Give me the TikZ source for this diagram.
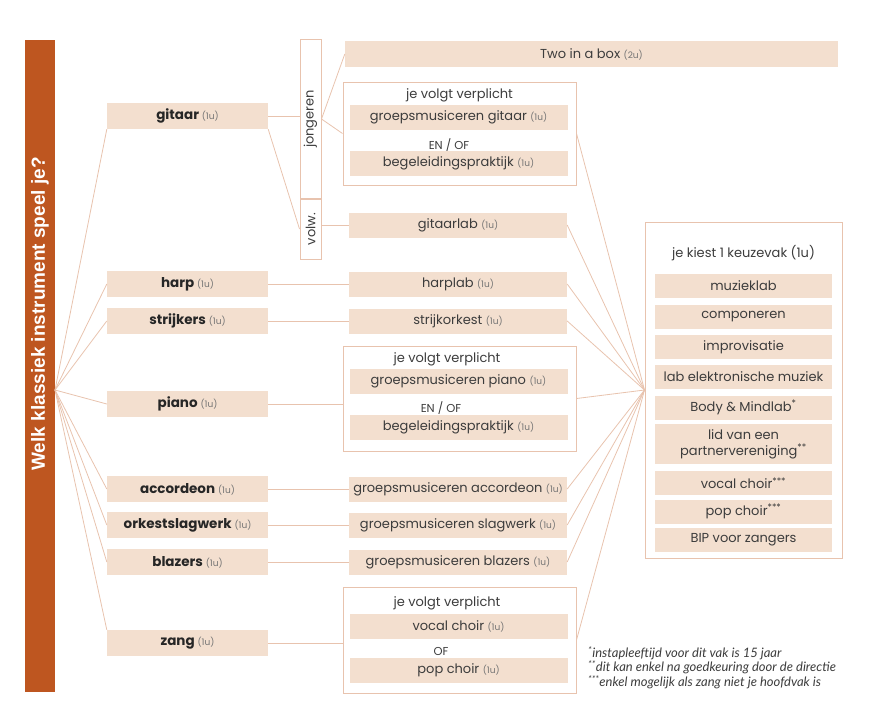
\documentclass[tikz,border=0pt]{standalone}
\usepackage{fontspec}
\setmainfont{Poppins}
\newfontfamily\balkfont{Liberation Sans}
\newfontfamily\voetfont{Lato}
\usetikzlibrary{positioning}

\definecolor{oranje}{HTML}{BE5620}
\definecolor{vlak}{HTML}{F3DFCF}
\definecolor{lijn}{HTML}{E8C3AE}
\definecolor{tekst}{HTML}{3C3C3C}

\newcommand{\uren}[1]{{\fontsize{9}{9}\selectfont\mdseries\color{black!55}(#1)}}

\tikzset{
  instr/.style={fill=vlak, minimum width=161pt, minimum height=26pt, inner sep=0pt,
    font=\fontsize{13.5}{13.5}\selectfont\bfseries, text=black!85},
  vak/.style={fill=vlak, minimum width=218pt, minimum height=25pt, inner sep=0pt,
    font=\fontsize{13}{13}\selectfont, text=tekst},
  kader/.style={draw=lijn, line width=1pt, minimum width=233pt, inner sep=0pt},
  leeftijd/.style={draw=lijn, line width=1pt, minimum width=21pt, inner sep=0pt,
    font=\fontsize{13}{13}\selectfont, text=tekst},
  keuzevak/.style={fill=vlak, minimum width=177pt, minimum height=24pt, inner sep=0pt,
    font=\fontsize{13}{16}\selectfont, text=tekst, align=center},
  tussen/.style={font=\fontsize{13}{13}\selectfont, text=tekst},
  enof/.style={font=\fontsize{11.5}{11.5}\selectfont, text=tekst},
  verbind/.style={draw=lijn, line width=0.8pt},
}

\begin{document}
\begin{tikzpicture}[x=1pt,y=-1pt]
        \useasboundingbox (0,0) rectangle (869,717);
        % Vraag links
        \fill[oranje] (25,40) rectangle (55,692);
        \node[rotate=90, text=white, font=\balkfont\fontsize{19}{19}\selectfont\bfseries] (vraag) at (40,314) {Welk klassiek instrument speel je?};
        \coordinate (bron) at (55,390);
        % Instrumenten
        \node[instr] (gitaar) at (187.5,116) {gitaar \uren{1u}};
        \node[instr] (harp) at (187.5,284) {harp \uren{1u}};
        \node[instr] (strijkers) at (187.5,321) {strijkers \uren{1u}};
        \node[instr] (piano) at (187.5,404) {piano \uren{1u}};
        \node[instr] (accordeon) at (187.5,489) {accordeon \uren{1u}};
        \node[instr] (orkestslagwerk) at (187.5,525) {orkestslagwerk \uren{1u}};
        \node[instr] (blazers) at (187.5,562) {blazers \uren{1u}};
        \node[instr] (zang) at (187.5,643) {zang \uren{1u}};
        % Gitaar: jongeren / volw.
        \node[leeftijd, minimum height=158pt] (jong) at (310.5,119) {\rotatebox{90}{jongeren}};
        \node[leeftijd, minimum height=60pt] (volw) at (310.5,229) {\rotatebox{90}{volw.}};
        \node[fill=vlak, minimum width=493pt, minimum height=26pt, inner sep=0pt, font=\fontsize{13}{13}\selectfont, text=tekst] (twobox) at (591.5,54) {Two in a box \uren{2u}};
        \node[kader, minimum height=103pt] (gv) at (459.5,133.5) {};
        \node[tussen] (gvtitel) at (459.5,95) {je volgt verplicht};
        \node[vak] (grgitaar) at (458.5,117) {groepsmusiceren gitaar \uren{1u}};
        \node[enof] (gvof) at (449,145) {EN / OF};
        \node[vak] (begeleidg) at (458.5,163.5) {begeleidingspraktijk \uren{1u}};
        \node[vak] (gitaarlab) at (458,225) {gitaarlab \uren{1u}};
        % Harp, strijkers
        \node[vak] (harplab) at (458,284) {harplab \uren{1u}};
        \node[vak] (strijkorkest) at (458,321) {strijkorkest \uren{1u}};
        % Piano
        \node[kader, minimum height=105pt] (pv) at (459.5,398.5) {};
        \node[tussen] (pvtitel) at (447,359) {je volgt verplicht};
        \node[vak] (grpiano) at (458.5,381) {groepsmusiceren piano \uren{1u}};
        \node[enof] (pvof) at (441,408) {EN / OF};
        \node[vak] (begeleidp) at (458.5,427.5) {begeleidingspraktijk \uren{1u}};
        % Groepsmusiceren
        \node[vak] (gracc) at (458,489) {groepsmusiceren accordeon \uren{1u}};
        \node[vak] (grslag) at (458,525) {groepsmusiceren slagwerk \uren{1u}};
        \node[vak] (grblaz) at (458,562) {groepsmusiceren blazers \uren{1u}};
        % Zang
        \node[kader, minimum height=106pt] (zv) at (459.5,640) {};
        \node[tussen] (zvtitel) at (447,603) {je volgt verplicht};
        \node[vak] (vocal) at (458.5,626.5) {vocal choir \uren{1u}};
        \node[enof] (zvof) at (441,651) {OF};
        \node[vak] (popchoir) at (458.5,670) {pop choir \uren{1u}};
        % Keuzevak
        \node[draw=lijn, line width=1pt, minimum width=197pt, minimum height=336pt] (keuze) at (743.5,390) {};
        \node[tussen] (keuzetitel) at (743.5,253) {je kiest 1 keuzevak (1u)};
        \node[keuzevak] (muzieklab) at (743.5,285.5) {muzieklab};
        \node[keuzevak] (componeren) at (743.5,317) {componeren};
        \node[keuzevak] (improvisatie) at (743.5,347) {improvisatie};
        \node[keuzevak] (elektro) at (743.5,376.5) {lab elektronische muziek};
        \node[keuzevak] (body) at (743.5,407.5) {Body \& Mindlab\textsuperscript{*}};
        \node[keuzevak, minimum height=40pt] (partner) at (743.5,444) {lid van een\\partnervereniging\textsuperscript{**}};
        \node[keuzevak] (vocalk) at (743.5,483) {vocal choir\textsuperscript{***}};
        \node[keuzevak] (popk) at (743.5,511.5) {pop choir\textsuperscript{***}};
        \node[keuzevak] (bip) at (743.5,539.5) {BIP voor zangers};
        % Voetnoten
        \node[anchor=north west, align=left, inner sep=0pt, text=tekst, font=\voetfont\itshape\fontsize{13}{10.5}\selectfont] (voet) at (588,646) {\textsuperscript{*}instapleeftijd voor dit vak is 15 jaar\\\textsuperscript{**}dit kan enkel na goedkeuring door de directie\\\textsuperscript{***}enkel mogelijk als zang niet je hoofdvak is};
        % Verbindingen
        \foreach \i/\a in {gitaar/south west, harp/west, strijkers/west, piano/west, accordeon/west, orkestslagwerk/west, blazers/west, zang/north west}
          \draw[verbind] (bron) -- (\i.\a);
        \draw[verbind] (gitaar.east) -- (gitaar.east -| jong.west);
        \draw[verbind] (gitaar.south east) -- (volw.west);
        \draw[verbind] (jong.east) -- (twobox.west);
        \draw[verbind] (jong.east) -- (gv.west);
        \draw[verbind] (volw.east |- gitaarlab.west) -- (gitaarlab.west);
        \draw[verbind] (harp.east) -- (harplab.west);
        \draw[verbind] (strijkers.east) -- (strijkorkest.west);
        \draw[verbind] (piano.east) -- (piano.east -| pv.west);
        \draw[verbind] (accordeon.east) -- (gracc.west);
        \draw[verbind] (orkestslagwerk.east) -- (grslag.west);
        \draw[verbind] (blazers.east) -- (grblaz.west);
        \draw[verbind] (zang.east) -- (zang.east -| zv.west);
        \foreach \i in {gv, gitaarlab, harplab, strijkorkest, pv, gracc, grslag, grblaz, zv}
          \draw[verbind] (\i.east) -- (keuze.west);
    \end{tikzpicture}
\end{document}
